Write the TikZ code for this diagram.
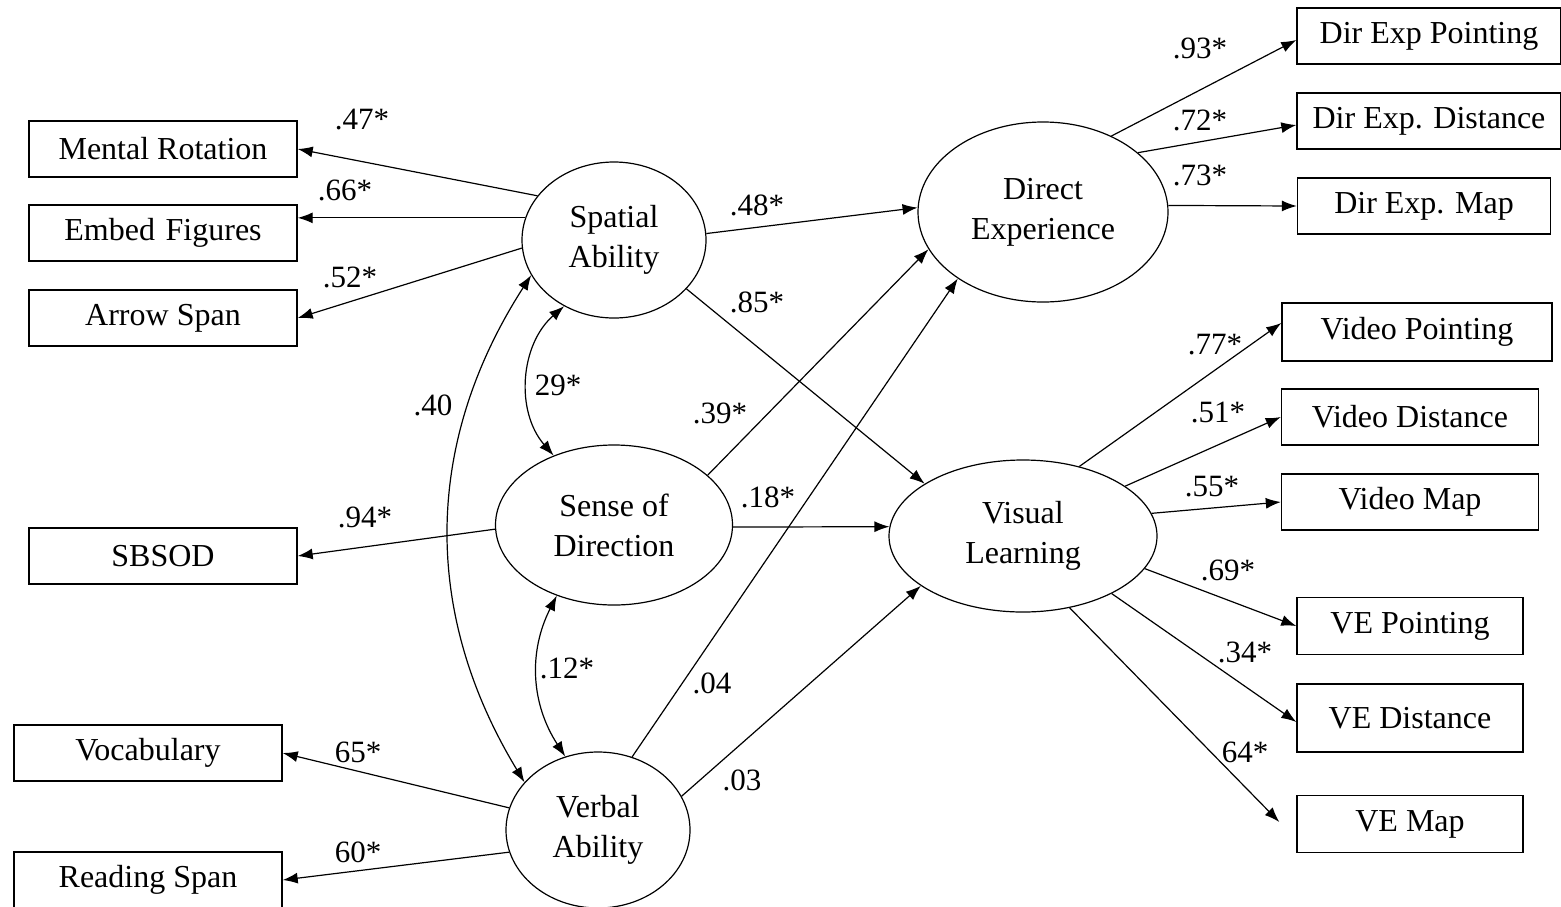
\documentclass[tikz,border=0pt]{standalone}
\usepackage{fontspec}
\setmainfont{Liberation Serif}
\usetikzlibrary{shapes.geometric,arrows.meta,calc}
\begin{document}
\begin{tikzpicture}[x=1pt,y=-1pt,
  obs/.style={draw,line width=1.4pt,rectangle,inner sep=0pt,font=\fontsize{32}{38}\selectfont},
  lat/.style={draw,line width=1.2pt,ellipse,inner sep=0pt,align=center,font=\fontsize{32}{40}\selectfont},
  path/.style={line width=1.2pt,-{Latex[length=15pt,width=11pt]}},
  cov/.style={line width=1.2pt,{Latex[length=15pt,width=11pt]}-{Latex[length=15pt,width=11pt]}},
  lbl/.style={font=\fontsize{31}{33}\selectfont,inner sep=0pt}]
\useasboundingbox[fill=white] (0,0) rectangle (1561,906);
% observed, left
\node[obs,minimum width=268,minimum height=56] (mr) at (163,149) {Mental Rotation};
\node[obs,minimum width=268,minimum height=56] (ef) at (163,233) {Embed\,\,Figures};
\node[obs,minimum width=268,minimum height=56] (as) at (163,318) {Arrow Span};
\node[obs,minimum width=268,minimum height=56] (sb) at (163,556) {SBSOD};
\node[obs,minimum width=268,minimum height=56] (vo) at (148,753) {Vocabulary};
\node[obs,minimum width=268,minimum height=56] (rs) at (148,880) {Reading Span};
% observed, right
\node[obs,minimum width=264,minimum height=56] (dep) at (1429,36) {Dir Exp Pointing};
\node[obs,minimum width=264,minimum height=56] (ded) at (1429,121) {Dir Exp. Distance};
\node[obs,minimum width=253,minimum height=56] (dem) at (1424,206) {Dir Exp. Map};
\node[obs,minimum width=270,minimum height=58] (vp) at (1417,332) {Video Pointing};
\node[obs,minimum width=257,minimum height=56] (vd) at (1410,417) {Video Distance};
\node[obs,minimum width=257,minimum height=56] (vm) at (1410,502) {Video Map};
\node[obs,minimum width=226,minimum height=57] (vep) at (1410,626) {VE Pointing};
\node[obs,minimum width=226,minimum height=68] (ved) at (1410,718) {VE Distance};
\node[obs,minimum width=226,minimum height=57] (vem) at (1410,824) {VE Map};
% latent
\node[lat,minimum width=184,minimum height=156] (sa) at (614,240) {Spatial\\Ability};
\node[lat,minimum width=237,minimum height=160] (sd) at (614,525) {Sense of\\Direction};
\node[lat,minimum width=184,minimum height=156] (vb) at (598,830) {Verbal\\Ability};
\node[lat,minimum width=250,minimum height=180] (de) at (1043,212) {Direct\\Experience};
\node[lat,minimum width=268,minimum height=152] (vl) at (1023,536) {Visual\\Learning};
% paths
\draw[path] (sa.150.5) -- (mr.east);
\draw[path] (sa.166.6) -- (mr.east |- sa.166.6);
\draw[path] (sa.185) -- (as.east);
\draw[path] (sa.4) -- (de.178);
\draw[path] (sa.-34) -- (vl.152.6);
\draw[path] (sd.28) -- (de.198.6);
\draw[path] (sd.-1) -- (vl.176);
\draw[path] (sd.182) -- (sb.east);
\draw[path] (vb.65) -- (de.218);
\draw[path] (vb.22) -- (vl.206);
\draw[path] (vb.166) -- (vo.east);
\draw[path] (vb.194) -- (rs.east);
\draw[path] (de.48) -- ($(dep.west)+(0,4)$);
\draw[path] (de.32.6) -- ($(ded.west)+(0,4)$);
\draw[path] (de.3) -- (dem.west);
\draw[path] (vl.51.5) -- ($(vp.west)+(0,-9)$);
\draw[path] (vl.26) -- (vd.west);
\draw[path] (vl.10) -- (vm.west);
\draw[path] (vl.-15.6) -- (vep.west);
\draw[path] (vl.-33) -- ($(ved.west)+(0,4)$);
\draw[path] (vl.-57) -- ($(vem.west)+(-17,-2)$);
% covariances
\draw[cov] (sa.233) to[bend right=45] (sd.131);
\draw[cov] (sd.231) to[bend right=30] (vb.114);
\draw[cov] (sa.203) to[bend right=32] (vb.147);
% labels
\node[lbl] (l1) at (362,120) {.47*};
\node[lbl] (l2) at (345,190) {.66*};
\node[lbl] (l3) at (350,277) {.52*};
\node[lbl] (l4) at (757,205) {.48*};
\node[lbl] (l5) at (757,302) {.85*};
\node[lbl] (l6) at (558,385) {29*};
\node[lbl] (l7) at (433,405) {.40};
\node[lbl] (l8) at (720,413) {.39*};
\node[lbl] (l9) at (768,497) {.18*};
\node[lbl] (l10) at (365,517) {.94*};
\node[lbl] (l11) at (567,668) {.12*};
\node[lbl] (l12) at (712,683) {.04};
\node[lbl] (l13) at (742,780) {.03};
\node[lbl] (l14) at (358,752) {65*};
\node[lbl] (l15) at (358,852) {60*};
\node[lbl] (l16) at (1200,48) {.93*};
\node[lbl] (l17) at (1200,120) {.72*};
\node[lbl] (l18) at (1200,175) {.73*};
\node[lbl] (l19) at (1215,345) {.77*};
\node[lbl] (l20) at (1218,412) {.51*};
\node[lbl] (l21) at (1212,487) {.55*};
\node[lbl] (l22) at (1228,570) {.69*};
\node[lbl] (l23) at (1245,652) {.34*};
\node[lbl] (l24) at (1245,752) {64*};
\end{tikzpicture}
\end{document}
